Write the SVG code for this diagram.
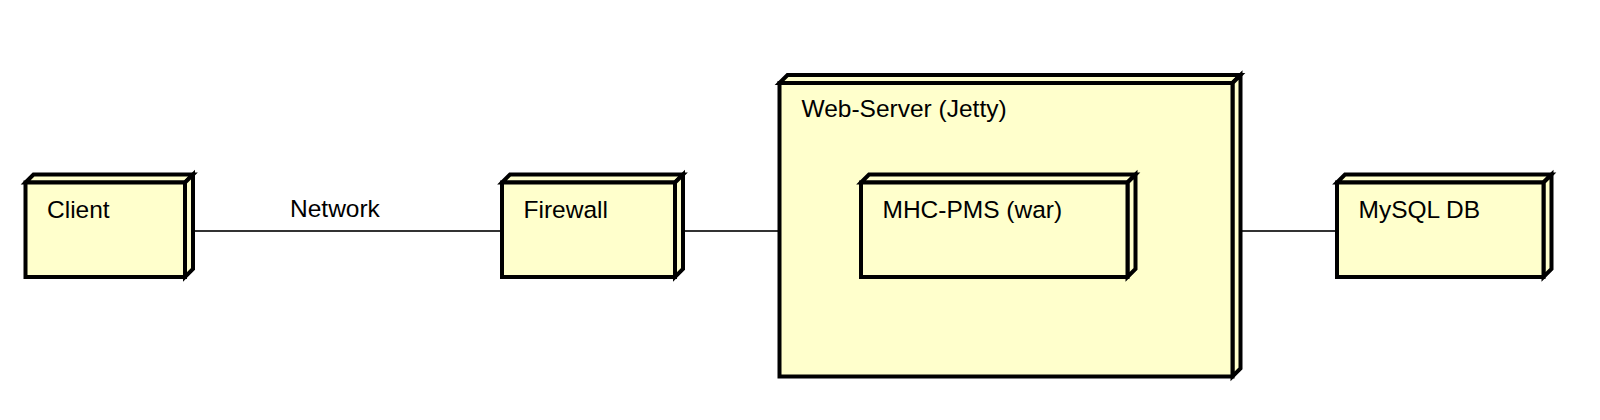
<svg xmlns="http://www.w3.org/2000/svg" width="1600" height="420" viewBox="0 0 1600 420">
<style>
.face{fill:#FFFFCC;stroke:#000;stroke-width:4;stroke-linejoin:miter}
.lbl{font-family:"Liberation Sans",Arial,sans-serif;font-size:24.5px;fill:#000}
.conn{stroke:#333;stroke-width:2;fill:none}
</style>
<rect x="0" y="0" width="1600" height="420" fill="#fff"/>
<g id="connectors">
<line class="conn" x1="185" y1="231" x2="504" y2="231"/>
<line class="conn" x1="675" y1="231" x2="780" y2="231"/>
<line class="conn" x1="1233" y1="231" x2="1338" y2="231"/>
<text class="lbl" x="290" y="216.5">Network</text>
</g>
<g id="client">
<polygon class="face" points="25.5,182.5 33.5,174.5 193,174.5 185,182.5"/>
<polygon class="face" points="185,182.5 193,174.5 193,269 185,277"/>
<rect class="face" x="25.5" y="182.5" width="159.5" height="94.5"/>
<text class="lbl" x="47" y="217.5">Client</text>
</g>
<g id="firewall">
<polygon class="face" points="502,182.5 510,174.5 683,174.5 675,182.5"/>
<polygon class="face" points="675,182.5 683,174.5 683,269 675,277"/>
<rect class="face" x="502" y="182.5" width="173" height="94.5"/>
<text class="lbl" x="523.5" y="217.5">Firewall</text>
</g>
<g id="webserver">
<polygon class="face" points="779.5,83 787.5,75 1240.5,75 1232.5,83"/>
<polygon class="face" points="1232.5,83 1240.5,75 1240.5,368.5 1232.5,376.5"/>
<rect class="face" x="779.5" y="83" width="453" height="293.5"/>
<text class="lbl" x="801.5" y="116.5">Web-Server (Jetty)</text>
</g>
<g id="mhcpms">
<polygon class="face" points="861,182.5 869,174.5 1135.5,174.5 1127.5,182.5"/>
<polygon class="face" points="1127.5,182.5 1135.5,174.5 1135.5,269 1127.5,277"/>
<rect class="face" x="861" y="182.5" width="266.5" height="94.5"/>
<text class="lbl" x="882.5" y="217.5">MHC-PMS (war)</text>
</g>
<g id="mysql">
<polygon class="face" points="1337,182.5 1345,174.5 1551.5,174.5 1543.5,182.5"/>
<polygon class="face" points="1543.5,182.5 1551.5,174.5 1551.5,269 1543.5,277"/>
<rect class="face" x="1337" y="182.5" width="206.5" height="94.5"/>
<text class="lbl" x="1358.5" y="217.5">MySQL DB</text>
</g>
</svg>
